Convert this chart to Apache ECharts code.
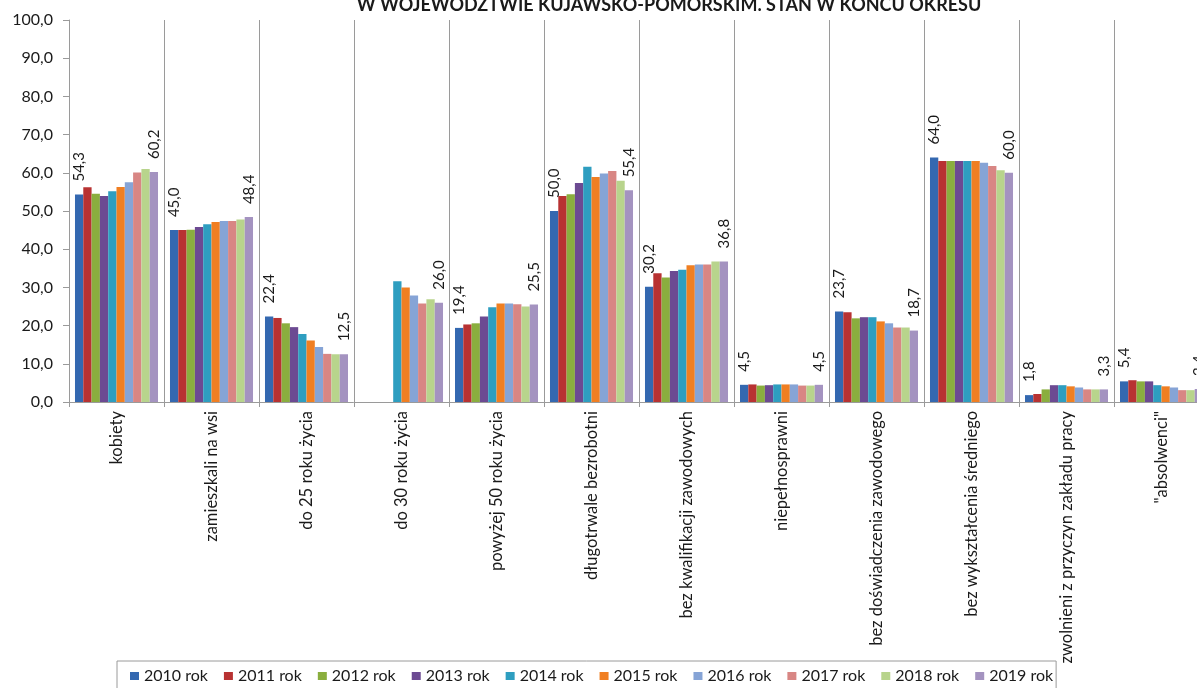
<!DOCTYPE html>
<html>
<head>
<meta charset="utf-8">
<script src="https://cdn.jsdelivr.net/npm/echarts@6/dist/echarts.min.js"></script>
<style>html,body{margin:0;padding:0;background:#fff;overflow:hidden;}#c{width:1209px;height:688px;}</style>
</head>
<body>
<div id="c"></div>
<script>
const titleText = 'W WOJEWÓDZTWIE KUJAWSKO-POMORSKIM. STAN W KOŃCU OKRESU';
const categories = ['kobiety', 'zamieszkali na wsi', 'do 25 roku życia', 'do 30 roku życia', 'powyżej 50 roku życia', 'długotrwale bezrobotni', 'bez kwalifikacji zawodowych', 'niepełnosprawni', 'bez doświadczenia zawodowego', 'bez wykształcenia średniego', 'zwolnieni z przyczyn zakładu pracy', '"absolwenci"'];
const seriesNames = ['2010 rok', '2011 rok', '2012 rok', '2013 rok', '2014 rok', '2015 rok', '2016 rok', '2017 rok', '2018 rok', '2019 rok'];
const y2010 = [54.3, 45.0, 22.4, null, 19.4, 50.0, 30.2, 4.5, 23.7, 64.0, 1.8, 5.4];
const y2011 = [56.2, 45.0, 22.0, null, 20.3, 53.9, 33.7, 4.6, 23.5, 63.1, 2.1, 5.7];
const y2012 = [54.5, 45.1, 20.6, null, 20.6, 54.4, 32.6, 4.3, 21.9, 63.1, 3.3, 5.4];
const y2013 = [53.9, 45.8, 19.6, null, 22.4, 57.3, 34.3, 4.4, 22.2, 63.1, 4.4, 5.4];
const y2014 = [55.2, 46.5, 17.8, 31.6, 24.8, 61.6, 34.6, 4.6, 22.2, 63.1, 4.4, 4.4];
const y2015 = [56.3, 47.1, 16.1, 30.0, 25.8, 58.9, 35.8, 4.6, 21.1, 63.1, 4.1, 4.1];
const y2016 = [57.5, 47.4, 14.4, 27.9, 25.8, 59.8, 36.0, 4.6, 20.6, 62.6, 3.8, 3.8];
const y2017 = [60.1, 47.4, 12.6, 25.8, 25.6, 60.5, 36.0, 4.3, 19.5, 61.8, 3.3, 3.1];
const y2018 = [61.0, 47.8, 12.5, 26.9, 25.0, 57.9, 36.8, 4.3, 19.5, 60.7, 3.3, 3.1];
const y2019 = [60.2, 48.4, 12.5, 26.0, 25.5, 55.4, 36.8, 4.5, 18.7, 60.0, 3.3, 3.4];
const seriesValues = [y2010, y2011, y2012, y2013, y2014, y2015, y2016, y2017, y2018, y2019];
const colors = ['#3468B0', '#B83232', '#8AAE3E', '#6C4A92', '#2E9EC0', '#F07F22', '#86A4D6', '#D88684', '#B8D48C', '#A493C0'];
const yTickFmt = v => v.toFixed(1).replace('.', ',');

const FONT = 'Lato';
const chart = echarts.init(document.getElementById('c'));
const series = seriesNames.map((name, i) => ({
  name: name,
  type: 'bar',
  data: seriesValues[i],
  barGap: '0%',
  barCategoryGap: '12.6%',
  itemStyle: { color: colors[i] },
  label: {
    show: (i === 0 || i === seriesNames.length - 1),
    position: 'top',
    rotate: 90,
    align: 'left',
    verticalAlign: 'middle',
    distance: 13,
    fontFamily: FONT,
    fontSize: 15,
    color: '#1a1a1a',
    formatter: p => (p.value == null ? '' : yTickFmt(p.value))
  },
  emphasis: { disabled: true }
}));

chart.setOption({
  animation: false,
  color: colors,
  textStyle: { fontFamily: FONT },
  title: {
    text: titleText,
    left: 669,
    textAlign: 'center',
    top: -4,
    padding: 0,
    textStyle: { fontFamily: FONT, fontSize: 18, fontWeight: 'bold', color: '#1a1a1a' }
  },
  legend: {
    left: 117,
    top: 661,
    orient: 'horizontal',
    itemWidth: 9,
    itemHeight: 8,
    itemGap: 16,
    padding: [7, 3, 7, 13],
    borderColor: '#9a9a9a',
    borderWidth: 1,
    icon: 'rect',
    textStyle: { fontFamily: FONT, fontSize: 16, color: '#1a1a1a' },
    data: seriesNames
  },
  grid: { left: 69, right: 0, top: 20, bottom: 286, containLabel: false },
  xAxis: {
    type: 'category',
    data: categories,
    axisLine: { show: true, lineStyle: { color: '#9a9a9a', width: 1 } },
    axisTick: { show: true, alignWithLabel: false, length: 5, lineStyle: { color: '#9a9a9a' } },
    splitLine: { show: true, interval: 0, lineStyle: { color: '#9a9a9a', width: 1 } },
    axisLabel: { interval: 0, rotate: 90, margin: 9, fontFamily: FONT, fontSize: 16.5, color: '#1a1a1a' }
  },
  yAxis: {
    type: 'value',
    min: 0,
    max: 100,
    interval: 10,
    axisLine: { show: true, lineStyle: { color: '#9a9a9a', width: 1 } },
    axisTick: { show: true, length: 6, lineStyle: { color: '#9a9a9a' } },
    splitLine: { show: false },
    axisLabel: { margin: 16, fontFamily: FONT, fontSize: 16, color: '#1a1a1a', formatter: yTickFmt }
  },
  series: series
});
</script>
</body>
</html>
